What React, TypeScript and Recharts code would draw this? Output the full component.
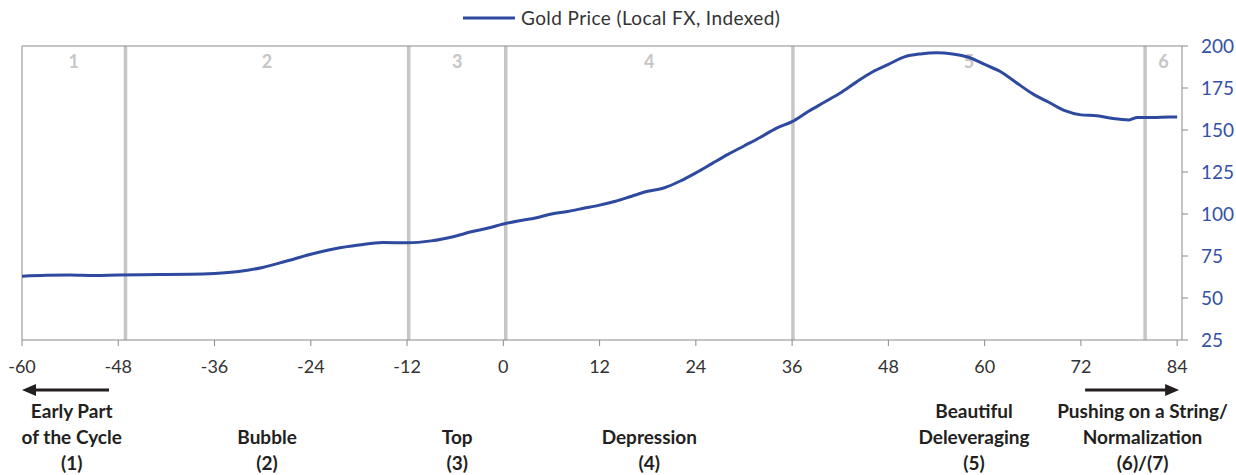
import { LineChart, Line, XAxis, YAxis, ReferenceLine, ReferenceArea } from "recharts";

// months relative to the top of the cycle (0)
const months = [
  -60, -57, -54, -51, -48, -45, -42, -39, -36, -33, -30, -27, -24, -21, -18, -15, -12, -9, -6, -4, -2, 0, 2, 4, 6,
  8, 10, 12, 14, 16, 18, 20, 22, 24, 26, 28, 30, 32, 34, 36, 38, 40, 42, 44, 46, 48, 50, 52, 54, 56, 58, 60, 62,
  64, 66, 68, 70, 72, 74, 76, 78, 79, 81, 83, 84,
];
const goldPrice = [
  63.0, 63.5, 63.7, 63.4, 63.7, 63.9, 64.0, 64.1, 64.6, 65.8, 68.2, 72.0, 76.0, 79.3, 81.5, 83.0, 82.9, 84.0, 86.8,
  89.4, 91.5, 94.0, 96.0, 97.6, 100.0, 101.5, 103.4, 105.3, 107.6, 110.6, 113.5, 115.5, 119.5, 124.5, 130.0, 135.5,
  140.5, 145.5, 151.0, 155.0, 161.0, 166.5, 172.0, 178.5, 184.5, 189.0, 193.5, 195.3, 196.0, 195.3, 193.3, 189.0,
  184.7, 178.0, 171.5, 166.5, 161.5, 159.0, 158.5, 156.8, 156.0, 157.5, 157.5, 157.8, 157.7,
];
const xTicks = [-60, -48, -36, -24, -12, 0, 12, 24, 36, 48, 60, 72, 84];
const yTicks = [25, 50, 75, 100, 125, 150, 175, 200];
const phaseBreaks = [-47.1, -11.8, 0.3, 36.1, 80.0];
const phaseNumbers = ["1", "2", "3", "4", "5", "6"];
const phaseNames = [
  ["Early Part", "of the Cycle", "(1)"],
  ["Bubble", "(2)"],
  ["Top", "(3)"],
  ["Depression", "(4)"],
  ["Beautiful", "Deleveraging", "(5)"],
  ["Pushing on a String/", "Normalization", "(6)/(7)"],
];

const data = months.map((m, i) => ({ month: m, gold: goldPrice[i] }));
const bounds = [-60, ...phaseBreaks, 84.6];

const BLUE = "#2e4a9f";
const FONT = "Lato, 'Noto Sans', sans-serif";
const nameShift = [-2, 0, 0, 0, 5, -21];

const PhaseLabel = (props: any) => {
  const { viewBox, index } = props;
  const { x, y, width, height } = viewBox;
  const cx = x + width / 2;
  const bottom = y + height;
  const lines = phaseNames[index];
  const nx = cx + nameShift[index];
  return (
    <g fontFamily={FONT}>
      <text x={cx} y={y + 22} textAnchor="middle" fill="#c6c6c6" fontSize={18} fontWeight={700}>
        {phaseNumbers[index]}
      </text>
      {lines.map((t, j) => (
        <text
          key={j}
          x={nx}
          y={bottom + 130 - (lines.length - 1 - j) * 26}
          textAnchor="middle"
          fill="#231f20"
          fontSize={19}
          fontWeight={700}
        >
          {t}
        </text>
      ))}
      {index === 0 && (
        <g>
          <line x1={x + 12} y1={bottom + 50} x2={x + 87} y2={bottom + 50} stroke="#231f20" strokeWidth={3} />
          <polygon points={`${x},${bottom + 50} ${x + 14},${bottom + 44} ${x + 14},${bottom + 56}`} fill="#231f20" />
        </g>
      )}
      {index === 5 && (
        <g>
          <line x1={x - 60} y1={bottom + 50} x2={x + 22} y2={bottom + 50} stroke="#231f20" strokeWidth={3} />
          <polygon
            points={`${x + 34},${bottom + 50} ${x + 20},${bottom + 44} ${x + 20},${bottom + 56}`}
            fill="#231f20"
          />
        </g>
      )}
    </g>
  );
};

export default function App() {
  return (
    <div style={{ position: "absolute", left: 0, top: 0, width: 1236, height: 475, fontFamily: FONT }}>
      <div
        style={{
          position: "absolute",
          left: 463,
          top: 6,
          display: "flex",
          alignItems: "center",
          fontSize: 19,
          letterSpacing: 0.4,
          color: "#333",
          whiteSpace: "nowrap",
        }}
      >
        <svg width={52} height={6} style={{ marginRight: 6 }}>
          <line x1={0} y1={3} x2={52} y2={3} stroke={BLUE} strokeWidth={3} />
        </svg>
        Gold Price (Local FX, Indexed)
      </div>
      <LineChart width={1236} height={475} data={data} margin={{ top: 46, right: 4, left: 22, bottom: 105 }}>
        {phaseNumbers.map((_, i) => (
          <ReferenceArea
            key={i}
            x1={bounds[i]}
            x2={bounds[i + 1]}
            y1={25}
            y2={200}
            fill="none"
            fillOpacity={0}
            stroke="none"
            label={(p: any) => <PhaseLabel {...p} index={i} />}
          />
        ))}
        {phaseBreaks.map((b) => (
          <ReferenceLine key={b} x={b} stroke="#c6c6c6" strokeWidth={3.5} />
        ))}
        <ReferenceLine y={200} stroke="#8a8a8a" strokeWidth={1} />
        <ReferenceLine x={-60} stroke="#8a8a8a" strokeWidth={1} />
        <XAxis
          dataKey="month"
          type="number"
          domain={[-60, 84.6]}
          ticks={xTicks}
          allowDataOverflow
          height={30}
          tickSize={6}
          tickMargin={14}
          stroke="#8a8a8a"
          tick={{ fill: "#333", fontSize: 18, fontFamily: FONT }}
        />
        <YAxis
          orientation="right"
          type="number"
          domain={[25, 200]}
          ticks={yTicks}
          width={50}
          tickSize={6}
          tickMargin={13}
          stroke="#8a8a8a"
          tick={{ fill: "#3550a6", fontSize: 19, fontFamily: FONT }}
        />
        <Line
          type="monotone"
          dataKey="gold"
          stroke={BLUE}
          strokeWidth={3}
          dot={false}
          isAnimationActive={false}
        />
      </LineChart>
    </div>
  );
}
